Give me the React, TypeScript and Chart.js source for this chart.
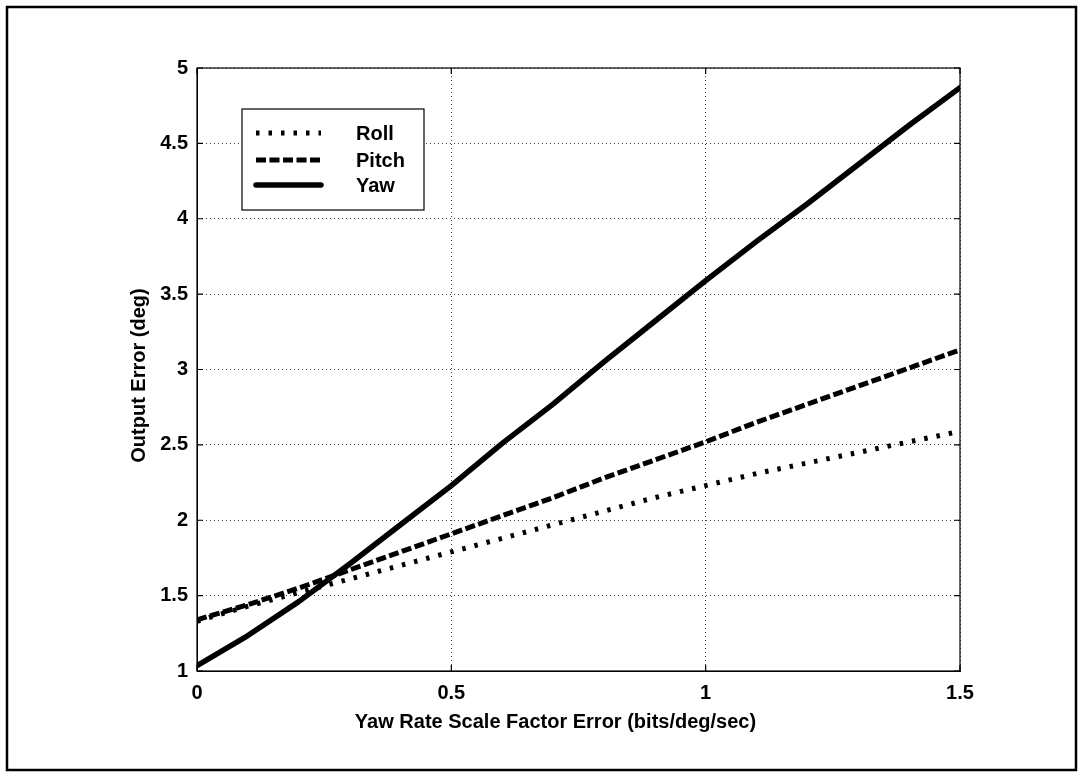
import React, { useEffect, useRef } from "react";
import { Chart, registerables } from "chart.js";

Chart.register(...registerables);

// ---- data ----
const xValues = [0, 0.1, 0.2, 0.3, 0.4, 0.5, 0.6, 0.7, 0.8, 0.9, 1.0, 1.1, 1.2, 1.3, 1.4, 1.5];
const rollValues = [1.33, 1.43, 1.52, 1.61, 1.70, 1.79, 1.88, 1.97, 2.06, 2.15, 2.23, 2.31, 2.38, 2.45, 2.52, 2.59];
const pitchValues = [1.34, 1.44, 1.55, 1.67, 1.79, 1.91, 2.03, 2.15, 2.28, 2.40, 2.52, 2.65, 2.77, 2.89, 3.01, 3.13];
const yawValues = [1.035, 1.235, 1.46, 1.71, 1.97, 2.23, 2.51, 2.77, 3.05, 3.32, 3.59, 3.85, 4.10, 4.36, 4.62, 4.87];
const seriesNames = ["Roll", "Pitch", "Yaw"];
const xTickValues = [0, 0.5, 1, 1.5];
const yTickValues = [1, 1.5, 2, 2.5, 3, 3.5, 4, 4.5, 5];
const xTitle = "Yaw Rate Scale Factor Error (bits/deg/sec)";
const yTitle = "Output Error (deg)";

const FONT = "'Liberation Sans', Arial, Helvetica, sans-serif";

const toPoints = (ys: number[]) => xValues.map((x, i) => ({ x, y: ys[i] }));

const framePlugin = {
  id: "frame",
  beforeDraw(chart: any) {
    const { ctx, width, height } = chart;
    ctx.save();
    ctx.fillStyle = "#fff";
    ctx.fillRect(0, 0, width, height);
    ctx.restore();
  },
  afterDraw(chart: any) {
    const { ctx, chartArea } = chart;
    const { left, right, top, bottom } = chartArea;
    const xs = chart.scales.x;
    const ys = chart.scales.y;
    ctx.save();
    // axes box
    ctx.strokeStyle = "#000";
    ctx.lineWidth = 1.2;
    ctx.strokeRect(left, top, right - left, bottom - top);
    // inward tick marks
    const tl = 6;
    ctx.beginPath();
    xTickValues.forEach((v) => {
      const px = xs.getPixelForValue(v);
      ctx.moveTo(px, bottom);
      ctx.lineTo(px, bottom - tl);
      ctx.moveTo(px, top);
      ctx.lineTo(px, top + tl);
    });
    yTickValues.forEach((v) => {
      const py = ys.getPixelForValue(v);
      ctx.moveTo(left, py);
      ctx.lineTo(left + tl, py);
      ctx.moveTo(right, py);
      ctx.lineTo(right - tl, py);
    });
    ctx.stroke();

    // titles
    ctx.fillStyle = "#000";
    ctx.font = `bold 20px ${FONT}`;
    ctx.textAlign = "center";
    ctx.textBaseline = "middle";
    ctx.fillText(xTitle, (left + right) / 2 - 23, 722);
    ctx.save();
    ctx.translate(139, (top + bottom) / 2 + 6);
    ctx.rotate(-Math.PI / 2);
    ctx.fillText(yTitle, 0, 0);
    ctx.restore();

    // outer page border
    ctx.lineWidth = 2.5;
    ctx.strokeRect(7, 7, 1069, 763);

    // legend
    const lx = 242, ly = 109, lw = 182, lh = 101;
    ctx.fillStyle = "#fff";
    ctx.fillRect(lx, ly, lw, lh);
    ctx.lineWidth = 1.2;
    ctx.strokeStyle = "#000";
    ctx.strokeRect(lx, ly, lw, lh);
    const rowsY = [133, 160, 185];
    chart.data.datasets.forEach((ds: any, i: number) => {
      const y = rowsY[i];
      ctx.save();
      ctx.strokeStyle = ds.borderColor;
      ctx.lineWidth = ds.borderWidth;
      ctx.lineCap = ds.borderCapStyle || "butt";
      ctx.setLineDash(ds.borderDash || []);
      ctx.beginPath();
      ctx.moveTo(256, y);
      ctx.lineTo(321, y);
      ctx.stroke();
      ctx.restore();
      ctx.fillStyle = "#000";
      ctx.textAlign = "left";
      ctx.textBaseline = "middle";
      ctx.fillText(ds.label, 356, y + 1);
    });
    ctx.restore();
  },
};

export default function App() {
  const ref = useRef<HTMLCanvasElement>(null);

  useEffect(() => {
    const canvas = ref.current;
    if (!canvas) return;
    const chart = new Chart(canvas, {
      type: "line",
      data: {
        datasets: [
          {
            label: seriesNames[0],
            data: toPoints(rollValues),
            borderColor: "#000",
            borderWidth: 5,
            borderDash: [3.5, 9],
            borderCapStyle: "butt",
            pointRadius: 0,
            tension: 0,
            fill: false,
          },
          {
            label: seriesNames[1],
            data: toPoints(pitchValues),
            borderColor: "#000",
            borderWidth: 5,
            borderDash: [10, 3.5],
            borderCapStyle: "butt",
            pointRadius: 0,
            tension: 0,
            fill: false,
          },
          {
            label: seriesNames[2],
            data: toPoints(yawValues),
            borderColor: "#000",
            borderWidth: 5.5,
            borderCapStyle: "round",
            borderJoinStyle: "round",
            pointRadius: 0,
            tension: 0,
            fill: false,
          },
        ],
      },
      options: {
        responsive: false,
        animation: false,
        devicePixelRatio: 1,
        layout: { padding: { left: 0, top: 68, right: 122, bottom: 0 } },
        plugins: {
          legend: { display: false },
          tooltip: { enabled: false },
          title: { display: false },
        },
        scales: {
          x: {
            type: "linear",
            min: 0,
            max: 1.5,
            afterFit: (s: any) => {
              s.height = 105;
            },
            afterBuildTicks: (s: any) => {
              s.ticks = xTickValues.map((v) => ({ value: v }));
            },
            ticks: {
              padding: 10,
              color: "#000",
              font: { family: FONT, size: 20, weight: "bold" },
              callback: (v: any) => String(v),
              maxRotation: 0,
            },
            grid: { color: "#444", lineWidth: 1, drawTicks: false },
            border: { display: true, color: "#000", width: 1, dash: [1, 3] },
          },
          y: {
            type: "linear",
            min: 1,
            max: 5,
            afterFit: (s: any) => {
              s.width = 197;
            },
            afterBuildTicks: (s: any) => {
              s.ticks = yTickValues.map((v) => ({ value: v }));
            },
            ticks: {
              padding: 9,
              color: "#000",
              font: { family: FONT, size: 20, weight: "bold" },
              callback: (v: any) => String(v),
            },
            grid: { color: "#444", lineWidth: 1, drawTicks: false },
            border: { display: true, color: "#000", width: 1, dash: [1, 3] },
          },
        },
      },
      plugins: [framePlugin],
    } as any);
    return () => chart.destroy();
  }, []);

  return (
    <div style={{ position: "fixed", left: 0, top: 0, width: 1082, height: 776, background: "#fff" }}>
      <canvas ref={ref} width={1082} height={776} style={{ display: "block", width: 1082, height: 776 }} />
    </div>
  );
}
